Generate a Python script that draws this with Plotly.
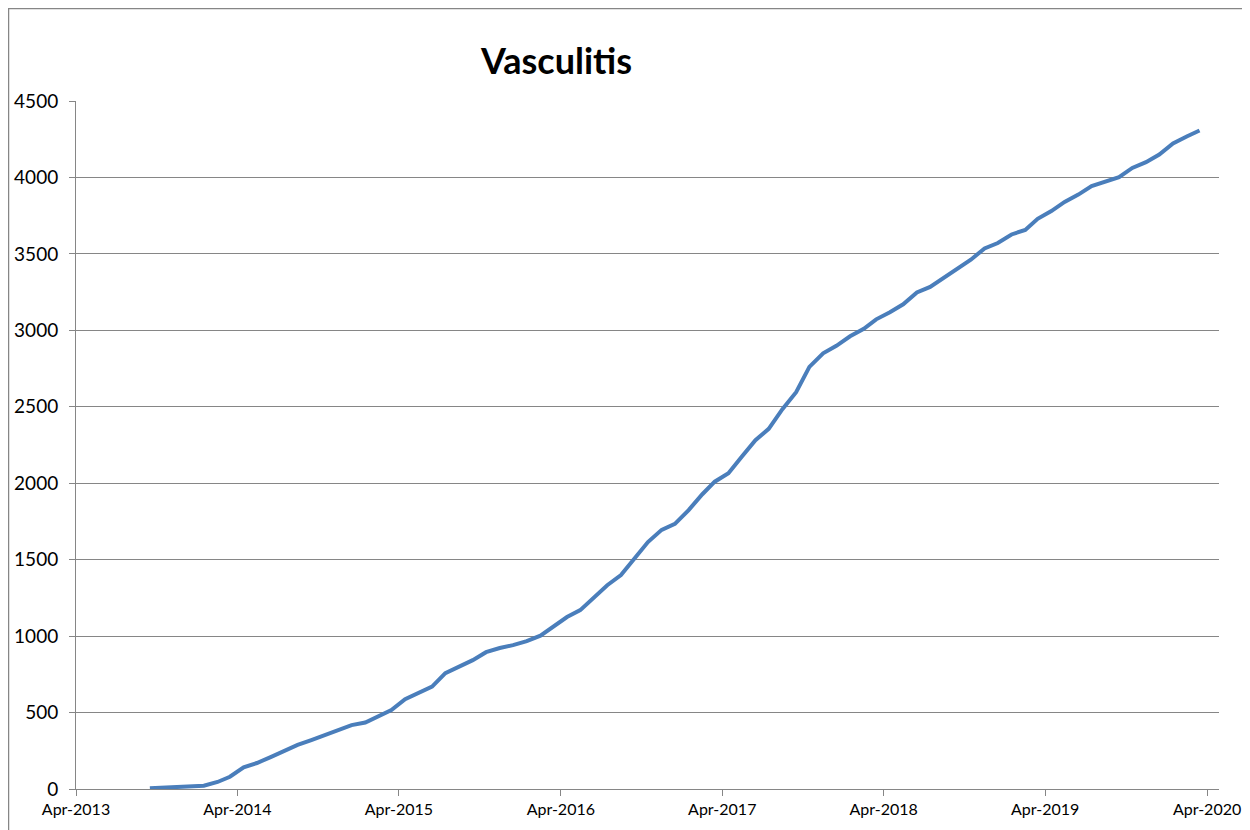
import plotly.graph_objects as go

# Monthly cumulative counts (mid-month), Sep 2013 .. Mar 2020
months = [
    "2013-09-15", "2013-10-15", "2013-11-15", "2013-12-15",
    "2014-01-15", "2014-02-15", "2014-03-15", "2014-04-15", "2014-05-15", "2014-06-15",
    "2014-07-15", "2014-08-15", "2014-09-15", "2014-10-15", "2014-11-15", "2014-12-15",
    "2015-01-15", "2015-02-15", "2015-03-15", "2015-04-15", "2015-05-15", "2015-06-15",
    "2015-07-15", "2015-08-15", "2015-09-15", "2015-10-15", "2015-11-15", "2015-12-15",
    "2016-01-15", "2016-02-15", "2016-03-15", "2016-04-15", "2016-05-15", "2016-06-15",
    "2016-07-15", "2016-08-15", "2016-09-15", "2016-10-15", "2016-11-15", "2016-12-15",
    "2017-01-15", "2017-02-15", "2017-03-15", "2017-04-15", "2017-05-15", "2017-06-15",
    "2017-07-15", "2017-08-15", "2017-09-15", "2017-10-15", "2017-11-15", "2017-12-15",
    "2018-01-15", "2018-02-15", "2018-03-15", "2018-04-15", "2018-05-15", "2018-06-15",
    "2018-07-15", "2018-08-15", "2018-09-15", "2018-10-15", "2018-11-15", "2018-12-15",
    "2019-01-15", "2019-02-15", "2019-03-15", "2019-04-15", "2019-05-15", "2019-06-15",
    "2019-07-15", "2019-08-15", "2019-09-15", "2019-10-15", "2019-11-15", "2019-12-15",
    "2020-01-15", "2020-02-15", "2020-03-15",
]
counts = [
    5, 10, 13, 16,
    21, 46, 80, 142, 170, 209,
    248, 288, 320, 353, 385, 418,
    435, 477, 516, 588, 627, 670,
    758, 804, 843, 895, 922, 941,
    967, 1003, 1065, 1125, 1170, 1256,
    1333, 1399, 1505, 1615, 1695, 1734,
    1824, 1928, 2010, 2065, 2173, 2281,
    2356, 2484, 2595, 2761, 2850, 2899,
    2961, 3010, 3072, 3118, 3170, 3248,
    3284, 3344, 3402, 3462, 3536, 3571,
    3627, 3657, 3729, 3780, 3840, 3888,
    3943, 3971, 4002, 4062, 4100, 4150,
    4222, 4268, 4307,
]
tick_dates = ["2013-04-01", "2014-04-01", "2015-04-01", "2016-04-01",
              "2017-04-01", "2018-04-01", "2019-04-01", "2020-04-01"]
tick_labels = ["Apr-2013", "Apr-2014", "Apr-2015", "Apr-2016",
               "Apr-2017", "Apr-2018", "Apr-2019", "Apr-2020"]
y_ticks = [0, 500, 1000, 1500, 2000, 2500, 3000, 3500, 4000, 4500]
title_text = "Vasculitis"

# the page body adds an 8px offset; figure coordinates are screen - 8
W, H = 1250, 830
L, R, T, B = 68, 39, 93, 49
pw, ph = W - L - R, H - T - B

def px_x(p):
    return (p - L) / pw

def px_y(p):
    return (H - B - p) / ph

fig = go.Figure()
fig.add_trace(go.Scatter(
    x=months, y=counts, mode="lines",
    line=dict(color="#4a7ebb", width=4),
    hoverinfo="x+y", showlegend=False,
))

fam = "Lato, 'Open Sans', sans-serif"

fig.update_layout(
    width=W, height=H,
    margin=dict(l=L, r=R, t=T, b=B, pad=0, autoexpand=False),
    paper_bgcolor="white", plot_bgcolor="white",
    xaxis=dict(
        type="date",
        range=["2013-04-01", "2020-04-28"],
        tickvals=tick_dates, ticktext=tick_labels,
        showgrid=False, zeroline=False, automargin=False,
        showline=True, linecolor="#868686", linewidth=1,
        ticks="outside", ticklen=6, tickcolor="#868686",
        tickfont=dict(family=fam, size=16, color="#000000"),
    ),
    yaxis=dict(
        range=[0, 4500],
        tickvals=y_ticks,
        showgrid=True, gridcolor="#868686", gridwidth=1,
        zeroline=False, automargin=False,
        showline=True, linecolor="#868686", linewidth=1,
        ticks="outside", ticklen=6, tickcolor="#868686",
        tickfont=dict(family=fam, size=19, color="#000000"),
        ticklabelstandoff=7,
    ),
    annotations=[
        dict(text="<b>" + title_text + "</b>", xref="paper", yref="paper",
             x=px_x(548), y=px_y(52), xanchor="center", yanchor="middle",
             showarrow=False,
             font=dict(family=fam, size=36, color="#000000")),
    ],
    shapes=[
        dict(type="rect", xref="paper", yref="paper",
             x0=px_x(0.5), x1=px_x(1300), y0=px_y(900), y1=px_y(0.5),
             line=dict(color="#868686", width=1.5), fillcolor="rgba(0,0,0,0)",
             layer="below"),
    ],
)

fig.write_html("out.html")
